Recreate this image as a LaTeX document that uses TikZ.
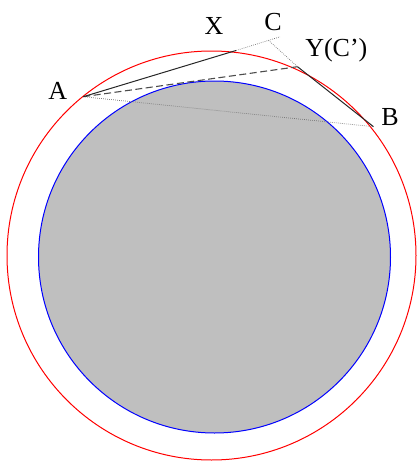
\documentclass[tikz,border=0pt]{standalone}
\usepackage{fontspec}
\setmainfont{Liberation Serif}
\begin{document}
\begin{tikzpicture}[x=1pt,y=-1pt,
  lbl/.style={inner sep=0pt,anchor=base,font=\fontsize{26}{28}\selectfont},
  dotline/.style={black!55,line width=0.7pt,dash pattern=on 0.7pt off 1.3pt},
  solidline/.style={black!85,line width=1pt},
  dashline/.style={black!70,line width=1.1pt,dash pattern=on 7pt off 3.5pt}]
\useasboundingbox (0,0) rectangle (417,461);
\coordinate (O1) at (211.5,255.5);
\coordinate (O2) at (214.5,257);
\fill[fill=black!25,draw=blue,line width=1pt] (O2) circle[radius=176];
\draw[red,line width=1pt] (O1) circle[radius=204.5];
\coordinate (A) at (83.3,96.7);
\coordinate (X) at (236,50.5);
\coordinate (C) at (268.5,40.3);
\coordinate (Ce) at (280,36.8);
\coordinate (Y) at (297.5,66.7);
\coordinate (B) at (373.5,126.7);
\draw[dotline] (A) -- (B);
\draw[dotline] (X) -- (Ce);
\draw[dotline] (C) -- (Y);
\draw[dashline] (A) -- (Y);
\draw[solidline] (A) -- (X);
\draw[solidline] (Y) -- (B);
\node[lbl] (lA) at (57.8,99) {A};
\node[lbl] (lX) at (214,34) {X};
\node[lbl] (lC) at (273,30.3) {C};
\node[lbl] (lY) at (336.3,56.7) {Y(C’)};
\node[lbl] (lB) at (390,125.7) {B};
\end{tikzpicture}
\end{document}
